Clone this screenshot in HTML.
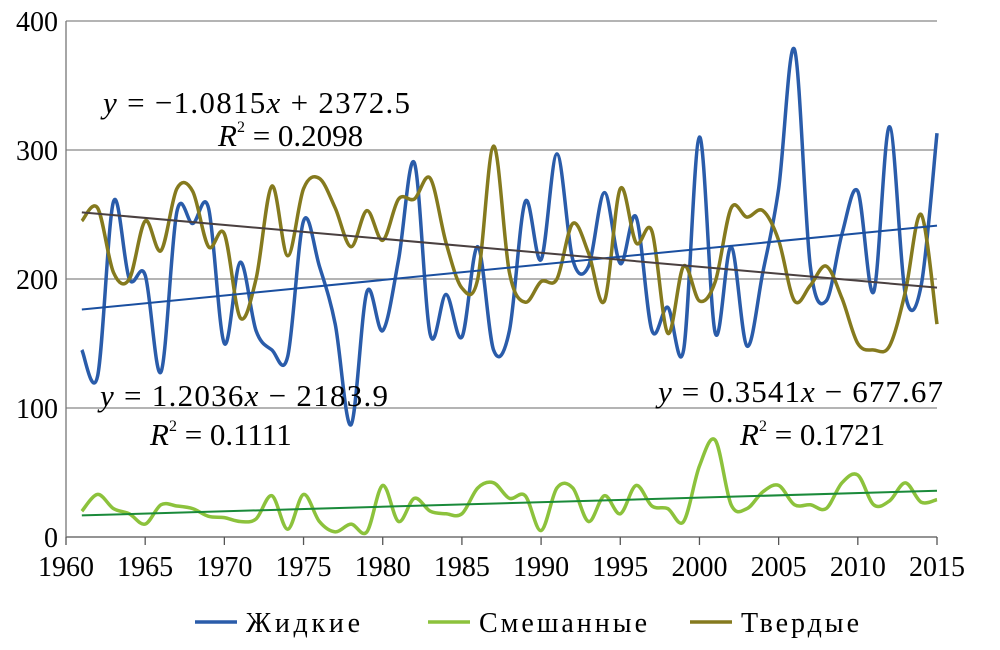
<!DOCTYPE html>
<html><head><meta charset="utf-8"><style>
html,body{margin:0;padding:0;background:#fff;}
svg{display:block;font-family:"Liberation Serif",serif;}
</style></head><body>
<svg id="chart" width="1000" height="650"></svg>
<script>
const years=[];for(let y=1961;y<=2015;y++)years.push(y);
const liquid=[145,125,260,200,203,128,252,243,255,150,213,160,145,140,245,210,165,87,190,160,215,290,157,188,155,225,145,160,260,215,297,215,210,267,212,248,160,178,145,310,158,225,148,205,270,378,210,183,235,268,190,318,188,195,313];
const mixed=[20,33,22,18,10,25,24,22,16,15,12,14,32,6,33,12,4,10,4,40,12,30,20,18,18,38,42,30,32,5,38,38,12,32,18,40,24,22,12,55,75,25,22,35,40,25,25,22,42,48,25,28,42,27,29];
const solid=[245,255,205,200,245,222,270,268,225,235,170,200,272,218,270,278,255,225,253,230,262,262,278,228,193,200,303,205,182,198,200,243,220,183,270,228,237,158,210,183,198,255,248,253,230,183,195,210,185,150,145,148,190,250,165];
const trendSlope=[1.2036,0.3541,-1.0815];
const trendIntercept=[-2183.9,-677.67,2372.5];
const yTicks=[0,100,200,300,400];
const xTicks=[1960,1965,1970,1975,1980,1985,1990,1995,2000,2005,2010,2015];
const NS="http://www.w3.org/2000/svg";
const svg=document.getElementById('chart');
const X=v=>66+(v-1960)*(871/55);
const Y=v=>537-v*(516/400);
function mk(t,a,p){const e=document.createElementNS(NS,t);for(const k in a)e.setAttribute(k,a[k]);(p||svg).appendChild(e);return e;}
yTicks.forEach(t=>{
 const l=mk('line',{x1:66,x2:937,y1:Y(t),y2:Y(t),stroke:t===0?'#555':'#888','stroke-width':1.3});
 
 
 const tx=mk('text',{x:58,y:Y(t)+10,'text-anchor':'end','font-size':28,fill:'#000'});tx.textContent=t;
 
 
});
const ax=mk('line',{x1:66,x2:66,y1:21,y2:537,stroke:'#777','stroke-width':1.3});


xTicks.forEach(t=>{
 mk('line',{x1:X(t),x2:X(t),y1:537,y2:545,stroke:'#555','stroke-width':1.3});
 const tx=mk('text',{x:X(t),y:576,'text-anchor':'middle','font-size':28,fill:'#000'});tx.textContent=t;
 
 
});
function smooth(vals){
 const p=vals.map((v,i)=>[X(years[i]),Y(v)]);
 let d='M'+p[0][0]+','+p[0][1];
 for(let i=0;i<p.length-1;i++){
  const p0=p[i-1]||p[i],p1=p[i],p2=p[i+1],p3=p[i+2]||p2;
  const c1=[p1[0]+(p2[0]-p0[0])/6,p1[1]+(p2[1]-p0[1])/6];
  const c2=[p2[0]-(p3[0]-p1[0])/6,p2[1]-(p3[1]-p1[1])/6];
  d+=` C${c1[0]},${c1[1]} ${c2[0]},${c2[1]} ${p2[0]},${p2[1]}`;
 }
 return d;
}
const series=[[liquid,'#2a5caa','series-liquid'],[mixed,'#8cc23c','series-mixed'],[solid,'#857a1e','series-solid']];
series.forEach(s=>{
 const p=mk('path',{d:smooth(s[0]),fill:'none',stroke:s[1],'stroke-width':3.5});
 
 
});
const tcol=['#1a4fa0','#1a8a3a','#4a4040'];
['trend-liquid','trend-mixed','trend-solid'].forEach((n,i)=>{
 const f=x=>trendSlope[i]*x+trendIntercept[i];
 const l=mk('line',{x1:X(1961),y1:Y(f(1961)),x2:X(2015),y2:Y(f(2015)),stroke:tcol[i],'stroke-width':2});
 
 
});
</script>
<svg width="1000" height="650" style="position:absolute;left:0;top:0;font-family:'Liberation Serif',serif;font-size:31px">
 <text x="103" y="113" textLength="307" lengthAdjust="spacing"><tspan font-style="italic">y</tspan> = −1.0815<tspan font-style="italic">x</tspan> + 2372.5</text>
 <text x="218" y="146"><tspan font-style="italic">R</tspan><tspan font-size="16" dy="-14">2</tspan><tspan dy="14"> = 0.2098</tspan></text>
 <text x="100" y="406" textLength="288" lengthAdjust="spacing"><tspan font-style="italic">y</tspan> = 1.2036<tspan font-style="italic">x</tspan> − 2183.9</text>
 <text x="150" y="445"><tspan font-style="italic">R</tspan><tspan font-size="16" dy="-14">2</tspan><tspan dy="14"> = 0.1111</tspan></text>
 <text x="658" y="402" textLength="285" lengthAdjust="spacing"><tspan font-style="italic">y</tspan> = 0.3541<tspan font-style="italic">x</tspan> − 677.67</text>
 <text x="740" y="445"><tspan font-style="italic">R</tspan><tspan font-size="16" dy="-14">2</tspan><tspan dy="14"> = 0.1721</tspan></text>
 <g font-size="28">
  <line x1="195" y1="622" x2="237" y2="622" stroke="#2a5caa" stroke-width="3.5"/>
  <text x="246" y="632" textLength="114">Жидкие</text>
  <line x1="428" y1="622" x2="470" y2="622" stroke="#8cc23c" stroke-width="3.5"/>
  <text x="479" y="632" textLength="168">Смешанные</text>
  <line x1="690" y1="622" x2="732" y2="622" stroke="#857a1e" stroke-width="3.5"/>
  <text x="741" y="632" textLength="118">Твердые</text>
 </g>
</svg>
</body></html>
